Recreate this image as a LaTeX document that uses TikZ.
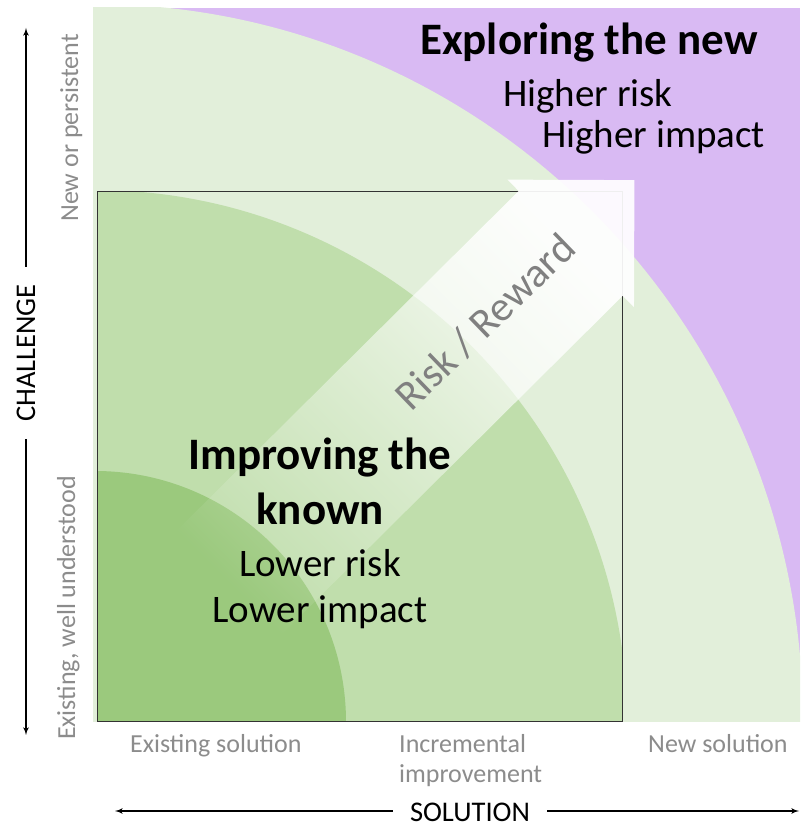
\documentclass[tikz,border=0pt]{standalone}
\usepackage{fontspec}
\setmainfont{Carlito}
\usepackage{xcolor}
\usepackage{tikz}
\usetikzlibrary{calc, shapes, backgrounds, arrows, positioning, fadings}

\definecolor{fiolet}{RGB}{217,186,243}
\definecolor{jasny}{RGB}{226,239,218}
\definecolor{sredni}{RGB}{192,222,172}
\definecolor{ciemny}{RGB}{155,201,125}
\definecolor{szary}{RGB}{140,140,140}
\tikzfading[name=strzalka, left color=transparent!100, right color=transparent!8]

\begin{document}
\begin{tikzpicture}[x=1pt, y=1pt,
		tytul/.style={font=\fontsize{45}{50}\selectfont\bfseries, inner sep=0pt},
		opis/.style={font=\fontsize{39}{45}\selectfont, inner sep=0pt},
		etykieta/.style={font=\fontsize{26}{30}\selectfont, text=szary, inner sep=0pt},
		os/.style={font=\fontsize{28.5}{32}\selectfont, inner xsep=17pt, inner ysep=0pt},
		osstrzalka/.style={draw, -latex', line width=1.6pt}]
		\useasboundingbox (0,0) rectangle (800,829);
		\fill[white] (0,0) rectangle (800,829);
		\fill[fiolet] (93,107) rectangle (800,821);
		\begin{scope}
			\clip (93,107) rectangle (800,821);
			\fill[jasny] (93,107) -- (803,107) arc[start angle=0, end angle=90, x radius=710, y radius=718] -- cycle;
		\end{scope}
		\begin{scope}
			\clip (97,107) rectangle (622,637);
			\fill[sredni] (95,107) circle[radius=532];
			\fill[ciemny] (95,107) circle[radius=251];
		\end{scope}
		\draw[black!80, line width=1pt] (97,107) rectangle (622,637);
		\coordinate (ogon) at (210,229);
		\coordinate (grot) at (635,651);
		\coordinate (baza) at ($(grot)!90pt!(ogon)$);
		\fill[white, path fading=strzalka, fading transform={rotate=45}]
			($(ogon)!74pt!90:(grot)$) -- ($(baza)!74pt!-90:(ogon)$) -- ($(baza)!90pt!-90:(ogon)$) -- (grot)
			-- ($(baza)!90pt!90:(ogon)$) -- ($(baza)!74pt!90:(ogon)$) -- ($(ogon)!74pt!-90:(grot)$) -- cycle;
		\node[font=\fontsize{42}{46}\selectfont, text={rgb,255:red,128;green,128;blue,128}, rotate=44] (ryzyko) at (485,507) {Risk / Reward};
		\node[tytul, anchor=base west] (nowe) at (420,774) {Exploring the new};
		\node[opis, anchor=base west] (nowe1) at (503,722) {Higher risk};
		\node[opis, anchor=base west] (nowe2) at (542,681) {Higher impact};
		\node[tytul, anchor=base] (znane) at (320,359) {Improving the};
		\node[tytul, below=55pt of znane.base, anchor=base] (znane0) {known};
		\node[opis, below=52pt of znane0.base, anchor=base] (znane1) {Lower risk};
		\node[opis, below=46pt of znane1.base, anchor=base] (znane2) {Lower impact};
		\node[etykieta, rotate=90, anchor=base] (gorny) at (78,701) {New or persistent};
		\node[etykieta, rotate=90, anchor=base] (dolny) at (75,221) {Existing, well understood};
		\node[etykieta, anchor=base west] (istniejace) at (130,76) {Existing solution};
		\node[etykieta, anchor=base west] (przyrost) at (399,76) {Incremental};
		\node[etykieta, below=30pt of przyrost.base west, anchor=base west] (przyrost2) {improvement};
		\node[etykieta, anchor=base west] (nowerozw) at (648,76) {New solution};
		\coordinate (ygora) at (26,801);
		\coordinate (ydol) at (26,94);
		\coordinate (xlewo) at (115,18);
		\coordinate (xprawo) at (799,18);
		\node[os, rotate=90] (wyzwanie) at (26,476) {CHALLENGE};
		\node[os, text height=22pt] (rozwiazanie) at (470,18) {SOLUTION};
		\path[osstrzalka] (wyzwanie) -- (ygora);
		\path[osstrzalka] (wyzwanie) -- (ydol);
		\path[osstrzalka] (rozwiazanie) -- (xlewo);
		\path[osstrzalka] (rozwiazanie) -- (xprawo);
	\end{tikzpicture}
\end{document}
